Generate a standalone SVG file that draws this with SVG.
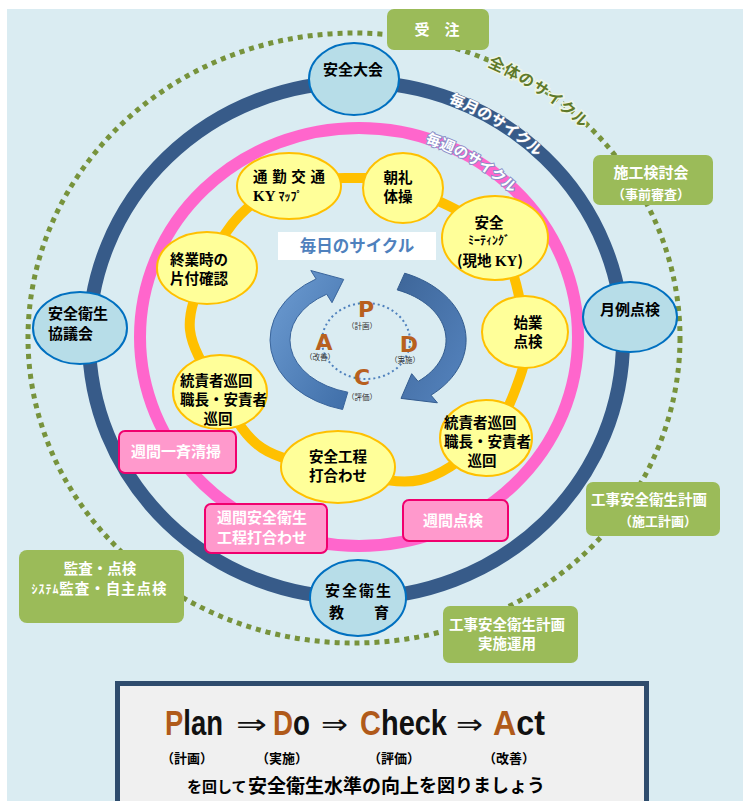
<svg xmlns="http://www.w3.org/2000/svg" width="743" height="801" viewBox="0 0 743 801" font-size="14.5">
<defs>
<style>
.nt{font-family:"Noto Sans CJK JP","Noto Sans CJK SC",sans-serif;font-weight:700;fill:#000;}
.wt{font-family:"Noto Sans CJK JP","Noto Sans CJK SC",sans-serif;font-weight:700;fill:#fff;}
.c{text-anchor:middle;}
.yn{fill:#FFFF99;stroke:#FFC000;stroke-width:2;}
.bn{fill:#B7DDE8;stroke:#0070C0;stroke-width:2;}
.pr{fill:#FF99CC;stroke:#F0006E;stroke-width:2;}
.gr{fill:#9BBB59;}
.ser{font-family:"Liberation Serif",serif;font-weight:700;}
.pd{font-family:"DejaVu Sans",sans-serif;font-weight:700;font-size:22px;fill:#B8601E;text-anchor:middle;}
.ps{font-family:"Noto Sans CJK JP",sans-serif;font-size:7.5px;fill:#333;text-anchor:middle;}
.big{font-family:"Liberation Sans",sans-serif;font-weight:700;font-size:35px;fill:#111;}
.arr{font-family:"DejaVu Sans",sans-serif;font-size:28px;fill:#111;}
.br{fill:#B05A1A;}
</style>
<linearGradient id="gl" x1="0" y1="0" x2="1" y2="1">
<stop offset="0" stop-color="#6E9DD3"/><stop offset="1" stop-color="#3F6EA8"/>
</linearGradient>
<linearGradient id="gr2" x1="0" y1="0" x2="1" y2="1">
<stop offset="0" stop-color="#3E6699"/><stop offset="1" stop-color="#5584BF"/>
</linearGradient>
<path id="pNavy" d="M356,87 A262 253 0 0 1 618,340"/>
<path id="pPink" d="M359,133 A214 204 0 0 1 573,337"/>
<path id="pGreen" d="M354,39 A320 299 0 0 1 674,338"/>
</defs>

<rect x="7" y="9" width="736" height="792" fill="#DAECF2"/>

<g id="connectors" fill="none">
<ellipse cx="354" cy="338" rx="326" ry="305" stroke="#77933C" stroke-width="5" stroke-dasharray="5 5"/>
<ellipse cx="356" cy="340" rx="267" ry="258" stroke="#375B89" stroke-width="14"/>
<ellipse cx="359" cy="337" rx="219" ry="209" stroke="#FF66CC" stroke-width="12"/>
<path stroke="#FFC000" stroke-width="10" d="M288,184 C306.8,177.8 333.8,177.7 353,178 C372.2,178.3 379.3,176 403,186 C426.7,196 474.7,213.7 495,238 C515.3,262.3 521.5,307 525,332 C528.5,357 522.5,370.3 516,388 C509.5,405.7 502,422.7 486,438 C470,453.3 444.7,474.7 420,480 C395.3,485.3 364.3,475.3 338,470 C311.7,464.7 281.7,461 262,448 C242.3,435 232,411.7 220,392 C208,372.3 192.2,350.7 190,330 C187.8,309.3 198.7,287.2 207,268 C215.3,248.8 226.5,229 240,215 C253.5,201 269.2,190.2 288,184 Z"/>
</g>

<g id="ring-labels" font-family="Noto Sans CJK JP, sans-serif" font-weight="700">
<text font-size="15.5" fill="#5F7A2A" stroke="#EEF5E6" stroke-width="3" paint-order="stroke" letter-spacing="1"><textPath href="#pGreen" startOffset="137">全体のサイクル</textPath></text>
<text font-size="15" fill="#fff" stroke="#6A7FA0" stroke-width="1" paint-order="stroke"><textPath href="#pNavy" startOffset="94">毎月のサイクル</textPath></text>
<text font-size="14.5" fill="#fff" stroke="#8A8FC8" stroke-width="2" paint-order="stroke"><textPath href="#pPink" startOffset="67">毎週のサイクル</textPath></text>
</g>

<g id="daily-cycle">
<rect x="278" y="232" width="158" height="28" fill="#fff"/>
<text x="357" y="252" font-family="Noto Sans CJK JP, sans-serif" font-weight="700" font-size="16.5" fill="#4F81BD" text-anchor="middle">毎日のサイクル</text>
<path d="M342.6,409.5 A98 72 0 0 1 316.1,278.9 L310.8,270.5 L343.7,279.4 L332,302.7 L326.7,294.2 A78 54 0 0 0 347.8,392.2 Z" fill="url(#gl)" stroke="#3A659C" stroke-width="1"/>
<path d="M404.7,273.2 A98 72 0 0 1 431,395.2 L437.4,402.8 L401,398.4 L411.7,373.7 L418.1,381.4 A78 54 0 0 0 397.2,289.9 Z" fill="url(#gr2)" stroke="#335C8F" stroke-width="1"/>
<ellipse cx="366" cy="341" rx="44" ry="38" fill="none" stroke="#4F81BD" stroke-width="2" stroke-dasharray="2 3"/>
<text class="pd" x="366" y="317">P</text>
<text class="ps" x="362" y="329">（計画）</text>
<text class="pd" x="409" y="352">D</text>
<text class="ps" x="405" y="363">（実施）</text>
<text class="pd" x="362" y="385">C</text>
<text class="ps" x="362" y="400">（評価）</text>
<text class="pd" x="324" y="350">A</text>
<text class="ps" x="320" y="360">（改善）</text>
</g>

<g id="n-tsukin"><ellipse class="yn" cx="289" cy="186" rx="52" ry="33"/>
<text class="nt" x="253" y="182" textLength="72">通 勤 交 通</text>
<text class="nt" x="253" y="201"><tspan class="ser" font-size="15">KY</tspan><tspan font-size="12" dx="3">ﾏｯﾌﾟ</tspan></text></g>
<g id="n-chorei"><ellipse class="yn" cx="403" cy="188" rx="40" ry="35"/>
<text class="nt c" x="398" y="183">朝礼</text><text class="nt c" x="398" y="202">体操</text></g>
<g id="n-meeting"><ellipse class="yn" cx="495" cy="238" rx="53" ry="42"/>
<text class="nt c" x="489" y="228">安全</text>
<text class="nt c" x="489" y="245" font-size="12">ﾐｰﾃｨﾝｸﾞ</text>
<text class="nt c" x="490" y="266">(現地 <tspan class="ser" font-size="15">KY</tspan>)</text></g>
<g id="n-shigyo"><ellipse class="yn" cx="525" cy="332" rx="43" ry="36"/>
<text class="nt c" x="528" y="328">始業</text><text class="nt c" x="528" y="347">点検</text></g>
<g id="n-tosekiR"><ellipse class="yn" cx="486" cy="438" rx="46" ry="38"/>
<text class="nt" x="444" y="428">統責者巡回</text><text class="nt" x="444" y="447">職長・安責者</text><text class="nt c" x="482" y="466">巡回</text></g>
<g id="n-kotei"><ellipse class="yn" cx="338" cy="467" rx="57" ry="36"/>
<text class="nt c" x="338" y="462">安全工程</text><text class="nt c" x="338" y="481">打合わせ</text></g>
<g id="n-tosekiL"><ellipse class="yn" cx="220" cy="392" rx="47" ry="37"/>
<text class="nt" x="180" y="386">統責者巡回</text><text class="nt" x="180" y="405">職長・安責者</text><text class="nt c" x="218" y="424">巡回</text></g>
<g id="n-shugyo"><ellipse class="yn" cx="207" cy="268" rx="50" ry="36"/>
<text class="nt" x="170" y="265">終業時の</text><text class="nt" x="170" y="284">片付確認</text></g>

<g id="n-taikai"><ellipse class="bn" cx="354" cy="79" rx="45" ry="36"/>
<text class="nt c" x="353" y="75" font-size="15">安全大会</text></g>
<g id="n-kyogikai"><ellipse class="bn" cx="80" cy="328" rx="47" ry="36"/>
<text class="nt" x="48" y="319" font-size="15">安全衛生</text><text class="nt" x="48" y="339" font-size="15">協議会</text></g>
<g id="n-getsurei"><ellipse class="bn" cx="630" cy="317" rx="47" ry="35"/>
<text class="nt c" x="630" y="315" font-size="15">月例点検</text></g>
<g id="n-kyoiku"><ellipse class="bn" cx="358" cy="598" rx="48" ry="38"/>
<text class="nt c" x="359" y="596" font-size="15" letter-spacing="2">安全衛生</text><text class="nt c" x="359" y="618" font-size="15">教　　育</text></g>

<g id="n-seiso"><rect class="pr" x="119" y="431" width="117" height="42" rx="6"/>
<text class="wt c" x="176" y="457" font-size="15">週間一斉清掃</text></g>
<g id="n-uchiawase"><rect class="pr" x="205" y="504" width="122" height="49" rx="6"/>
<text class="wt c" x="262" y="523" font-size="15">週間安全衛生</text><text class="wt c" x="262" y="543" font-size="15">工程打合わせ</text></g>
<g id="n-shukan"><rect class="pr" x="403" y="500" width="105" height="41" rx="6"/>
<text class="wt c" x="453" y="526" font-size="15">週間点検</text></g>

<g id="n-juchu"><rect class="gr" x="387" y="9" width="102" height="41" rx="7"/>
<text class="wt c" x="437" y="35" font-size="15">受　注</text></g>
<g id="n-sekokento"><rect class="gr" x="593" y="155" width="120" height="50" rx="7"/>
<text class="wt c" x="651" y="178" font-size="15">施工検討会</text><text class="wt c" x="651" y="199" font-size="13">（事前審査）</text></g>
<g id="n-keikaku"><rect class="gr" x="586" y="482" width="134" height="54" rx="7"/>
<text class="wt c" x="649" y="505">工事安全衛生計画</text><text class="wt c" x="658" y="526" font-size="13">（施工計画）</text></g>
<g id="n-kansa"><rect class="gr" x="19" y="550" width="165" height="73" rx="8"/>
<text class="wt c" x="100" y="574">監査・点検</text><text class="wt c" x="99" y="594" textLength="135"><tspan font-size="12">ｼｽﾃﾑ</tspan>監査・自主点検</text></g>
<g id="n-unyo"><rect class="gr" x="443" y="606" width="135" height="57" rx="7"/>
<text class="wt c" x="507" y="630">工事安全衛生計画</text><text class="wt c" x="507" y="649">実施運用</text></g>

<g id="summary">
<rect x="117.5" y="683.5" width="529" height="130" fill="#F0F0F0" stroke="#2E4C6D" stroke-width="5"/>
<text class="big" x="165" y="735" textLength="58" lengthAdjust="spacingAndGlyphs"><tspan class="br">P</tspan>lan</text>
<text class="arr" x="236" y="734" textLength="31" lengthAdjust="spacingAndGlyphs">⇒</text>
<text class="big" x="273" y="735" textLength="37" lengthAdjust="spacingAndGlyphs"><tspan class="br">D</tspan>o</text>
<text class="arr" x="321" y="734" textLength="27" lengthAdjust="spacingAndGlyphs">⇒</text>
<text class="big" x="360" y="735" textLength="87" lengthAdjust="spacingAndGlyphs"><tspan class="br">C</tspan>heck</text>
<text class="arr" x="456" y="734" textLength="27" lengthAdjust="spacingAndGlyphs">⇒</text>
<text class="big" x="493" y="735" textLength="52" lengthAdjust="spacingAndGlyphs"><tspan class="br">A</tspan>ct</text>
<text class="nt" x="161" y="763" font-size="13">（計画）</text>
<text class="nt" x="256" y="763" font-size="13">（実施）</text>
<text class="nt" x="368" y="763" font-size="13">（評価）</text>
<text class="nt" x="483" y="763" font-size="13">（改善）</text>
<text class="nt" x="187" y="792" font-size="15">を回して</text>
<text class="nt" x="248" y="793" font-size="19">安全衛生水準の向上</text>
<text class="nt" x="419" y="792" font-size="18">を図りましょう</text>
</g>
</svg>
